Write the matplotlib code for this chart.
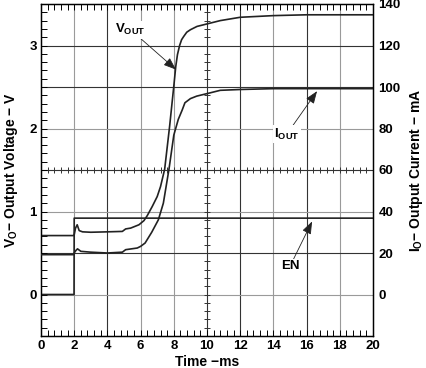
import matplotlib
matplotlib.use("Agg")
import matplotlib.pyplot as plt
import numpy as np

# ---- data ----
en_t = [0, 1.99, 2.0, 20]
en_v = [0.0, 0.0, 0.92, 0.92]

vout_t = [0, 1.98, 2.0, 2.08, 2.18, 2.3, 2.5, 3, 4, 4.9, 5.1, 5.4, 5.9, 6.2, 6.4,
          6.7, 7.0, 7.2, 7.45, 7.75, 8.0, 8.12, 8.22, 8.35, 8.47, 8.6, 8.78,
          9.0, 9.4, 9.8, 10.8, 12, 14, 16, 20]
vout_v = [0.71, 0.71, 0.72, 0.80, 0.84, 0.77, 0.755, 0.75, 0.755, 0.76, 0.79,
          0.80, 0.84, 0.89, 0.95, 1.06, 1.18, 1.30, 1.51, 2.03, 2.51, 2.75, 2.89,
          3.0, 3.07, 3.11, 3.16, 3.19, 3.23, 3.25, 3.30, 3.34, 3.36, 3.37, 3.37]

iout_t = [0, 1.98, 2.0, 2.1, 2.2, 2.4, 3, 4, 4.9, 5.1, 5.8, 6.0, 6.27, 6.67,
          7.07, 7.37, 7.71, 8.0, 8.27, 8.5, 8.67, 9.0, 9.38, 10.2, 10.8, 12, 14, 20]
iout_ma = [19.2, 19.2, 20.0, 21.2, 22.0, 20.8, 20.4, 20.0, 20.4, 21.6, 22.4,
           23.2, 24.8, 30.0, 36.0, 44.0, 60.4, 76.8, 84.4, 88.8, 92.4, 94.4,
           95.6, 97.2, 98.4, 98.8, 99.2, 99.2]

x_ticks = list(range(0, 21, 2))
v_ticks = [0, 1, 2, 3]
i_ticks = [0, 20, 40, 60, 80, 100, 120, 140]
# grid divisions: (position, dark?)
x_grid = [(2, False), (4, True), (6, False), (8, False), (12, True),
          (14, False), (16, True), (18, False)]
y_grid = [(3.0, True), (2.5, True), (2.0, False), (1.0, False),
          (0.5, True), (0.0, False)]

FONT = ["Liberation Sans", "DejaVu Sans"]
plt.rcParams["font.family"] = FONT
plt.rcParams["font.weight"] = "bold"
plt.rcParams["mathtext.fontset"] = "custom"
plt.rcParams["mathtext.rm"] = "Liberation Sans"
plt.rcParams["mathtext.bf"] = "Liberation Sans:bold"

fig = plt.figure(figsize=(4.27, 3.68), dpi=100)
ax = fig.add_axes([41 / 427, 32 / 368, 332 / 427, 332 / 368])
ax.set_xlim(0, 20)
ax.set_ylim(-0.5, 3.5)

for x, dark in x_grid:
    ax.axvline(x, color="#333333" if dark else "#9a9a9a", lw=0.8, zorder=1)
for y, dark in y_grid:
    ax.axhline(y, color="#333333" if dark else "#9a9a9a", lw=0.8, zorder=1)

# centre cross lines with small ticks
ax.axvline(10, color="#333333", lw=0.8, zorder=1)
ax.axhline(1.5, color="#333333", lw=0.8, zorder=1)
ax.plot(np.arange(0, 20.01, 0.4), np.full(51, 1.5), ls="none", marker="|",
        ms=5, mew=0.7, color="#333333", zorder=1)
ax.plot(np.full(41, 10), np.arange(-0.5, 3.51, 0.1), ls="none", marker="_",
        ms=5, mew=0.7, color="#333333", zorder=1)

ax.plot(en_t, en_v, color="#222222", lw=1.2, zorder=3)
ax.plot(vout_t, vout_v, color="#222222", lw=1.2, zorder=3)

ax.set_xticks(x_ticks)
ax.set_xticks(np.arange(0, 20.01, 0.4), minor=True)
ax.set_yticks(v_ticks)
ax.set_yticks(np.arange(-0.5, 3.51, 0.1), minor=True)
ax.tick_params(which="both", direction="in", top=True, right=True,
               length=4, width=0.7, labelsize=9.5, pad=3)
for s in ax.spines.values():
    s.set_linewidth(1.0)

ax2 = ax.twinx()
ax2.set_ylim(-20, 140)
ax2.plot(iout_t, iout_ma, color="#222222", lw=1.2, zorder=3)
ax2.set_yticks(i_ticks)
ax2.tick_params(axis="y", length=0, labelsize=9.5, pad=4)

for lab in ax.get_xticklabels() + ax.get_yticklabels() + ax2.get_yticklabels():
    lab.set_fontweight("bold")

MINUS = "\u2212"
ax.set_xlabel(f"Time {MINUS}ms", fontsize=10, fontweight="bold", labelpad=2)
ax.set_ylabel(r"V$_\mathbf{O}$" + f"{MINUS} Output Voltage {MINUS} V",
              fontsize=10, fontweight="bold", labelpad=7)
ax2.set_ylabel(r"I$_\mathbf{O}$" + f"{MINUS} Output Current {MINUS} mA",
               fontsize=10, fontweight="bold", labelpad=5)

arrow = dict(arrowstyle="-|>,head_length=0.8,head_width=0.3", color="#222222",
             lw=0.6, shrinkA=0, shrinkB=0)
ax.annotate(r"$\mathbf{V_{OUT}}$", xy=(8.13, 2.71), xytext=(5.4, 3.19),
            ha="center", va="center", fontsize=9.5, arrowprops=arrow,
            bbox=dict(boxstyle="square,pad=0.1", fc="white", ec="none"))
ax.annotate(r"$\mathbf{I_{OUT}}$", xy=(16.63, 2.45), xytext=(14.8, 1.93),
            ha="center", va="center", fontsize=9.5, arrowprops=arrow,
            bbox=dict(boxstyle="square,pad=0.1", fc="white", ec="none"))
ax.annotate("EN", xy=(16.33, 0.88), xytext=(15.0, 0.34), ha="center",
            va="center", fontsize=9.5, fontweight="bold", arrowprops=arrow,
            bbox=dict(boxstyle="square,pad=0.1", fc="white", ec="none"))

fig.savefig("out.png", dpi=100, facecolor="white")
